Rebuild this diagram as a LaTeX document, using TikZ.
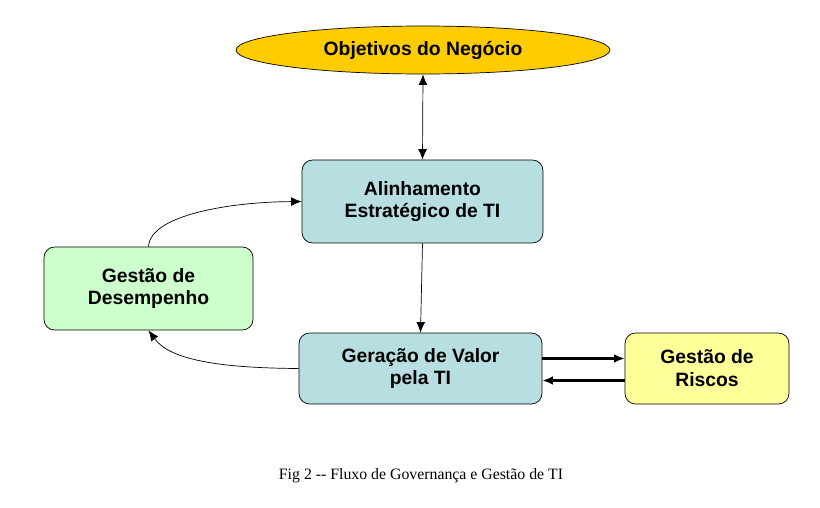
\documentclass[tikz,border=0pt]{standalone}
\usepackage{fontspec}
\setmainfont{Liberation Sans}
\newfontfamily\capfont{Liberation Serif}
\usetikzlibrary{shapes.geometric,arrows.meta}
\definecolor{ouro}{HTML}{FFCC00}
\definecolor{azulclaro}{HTML}{B7DEE0}
\definecolor{verdeclaro}{HTML}{CCFFCC}
\definecolor{amareloclaro}{HTML}{FFFF99}
\begin{document}
\begin{tikzpicture}[x=0.02cm,y=-0.02cm]
\tikzstyle{caixa}=[draw=black, rounded corners=6pt, align=center, font=\fontsize{11}{13}\selectfont\bfseries, inner sep=0pt]
\tikzstyle{seta}=[-{Latex[length=6pt,width=5pt]}, black]
\useasboundingbox (0,0) rectangle (820,507);
\node [ellipse, draw=black, fill=ouro, minimum width=7.48cm, minimum height=0.96cm, font=\fontsize{11}{13}\selectfont\bfseries] (obj) at (423,50) {Objetivos do Negócio};
\node [caixa, fill=azulclaro, minimum width=4.82cm, minimum height=1.66cm] (alin) at (422.5,201.5) {Alinhamento\\Estratégico de TI};
\node [caixa, fill=verdeclaro, minimum width=4.18cm, minimum height=1.66cm] (desemp) at (148.5,288.5) {Gestão de\\Desempenho};
\node [caixa, fill=azulclaro, minimum width=4.86cm, minimum height=1.42cm] (valor) at (420.5,368.5) {Geração de Valor\\pela TI};
\node [caixa, fill=amareloclaro, minimum width=3.28cm, minimum height=1.42cm] (riscos) at (707,368.5) {Gestão de\\Riscos};
\node [font=\capfont\fontsize{9}{11}\selectfont] (legenda) at (421,476) {Fig 2 -- Fluxo de Governança e Gestão de TI};
% conexoes
\draw [seta, {Latex[length=6pt,width=5pt]}-{Latex[length=6pt,width=5pt]}] (obj.south) -- (alin.north);
\draw [seta] (alin.south) -- (valor.north);
\draw [seta, line width=1.4pt] ([yshift=0.2cm]valor.east) -- ([yshift=0.2cm]riscos.west);
\draw [seta, line width=1.4pt] ([yshift=-0.24cm]riscos.west) -- ([yshift=-0.24cm]valor.east);
\draw [seta] (valor.west) .. controls (220,368) and (170,360) .. (desemp.south);
\draw [seta] (desemp.north) .. controls (150,215) and (230,202) .. (alin.west);
\end{tikzpicture}
\end{document}
